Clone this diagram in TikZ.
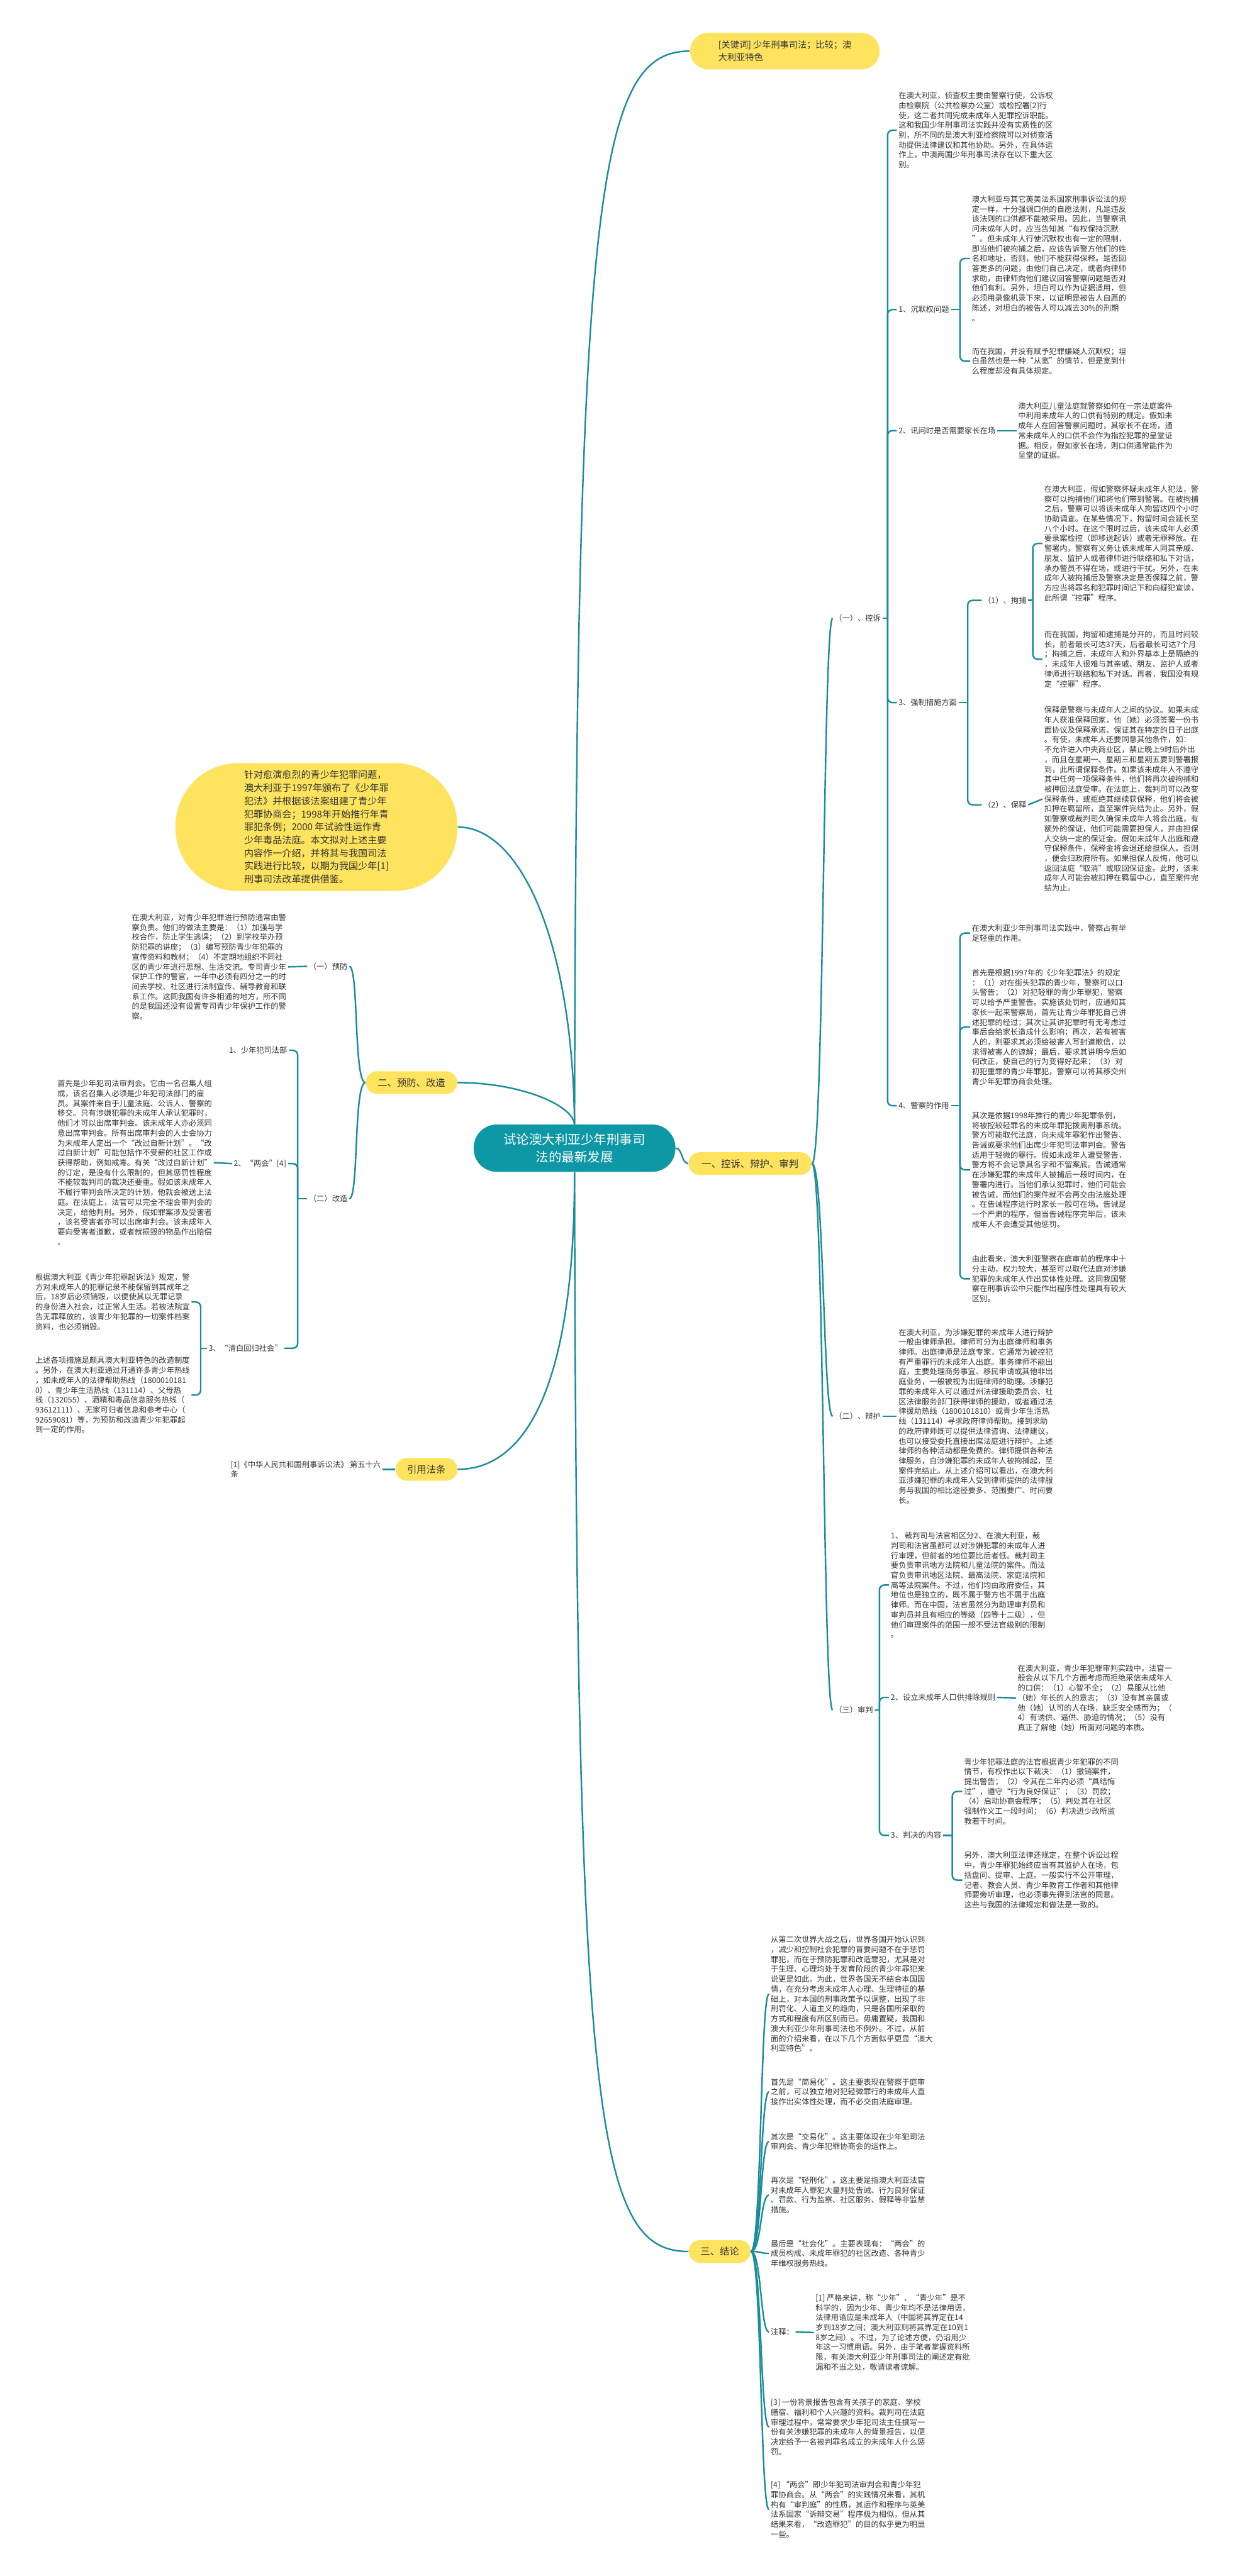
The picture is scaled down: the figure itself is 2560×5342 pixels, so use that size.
\documentclass[tikz,border=0pt]{standalone}
\usepackage{fontspec}
\setmainfont{Noto Sans CJK SC}
\definecolor{lnk}{HTML}{1A8D9C}
\definecolor{bub}{HTML}{FDE35E}
\definecolor{hubc}{HTML}{0E97A5}
\definecolor{ink}{HTML}{333333}
\tikzset{
  link/.style={draw=lnk, line width=0.9pt, rounded corners=0.1cm},
  txt/.style={anchor=west, align=left, inner sep=0.03cm, text=ink, font=\fontsize{4.55pt}{5.83pt}\selectfont},
  txtl/.style={txt, anchor=east},
  topic/.style={fill=bub, text=ink, rounded corners=0.23cm, minimum height=0.47cm, inner sep=0pt, font=\fontsize{5.7pt}{7pt}\selectfont},
}
\begin{document}
\begin{tikzpicture}[x=0.01cm, y=-0.01cm]
\useasboundingbox (0,0) rectangle (2560,5342);
\fill[white] (0,0) rectangle (2560,5342);

\node[fill=hubc, text=white, rounded corners=0.48cm, minimum width=4.18cm, minimum height=0.98cm, align=center, font=\fontsize{7.6pt}{10.2pt}\selectfont] (hub) at (1191,2381) {试论澳大利亚少年刑事司\\法的最新发展};
\node[topic, minimum width=3.93cm, minimum height=0.76cm, rounded corners=0.38cm, align=left, font=\fontsize{5.26pt}{7.4pt}\selectfont] (kw) at (1627,106) {[关键词]\ 少年刑事司法；比较；澳\\大利亚特色};
\node[topic, minimum width=5.84cm, minimum height=2.65cm, rounded corners=1.3cm, align=left, font=\fontsize{5.6pt}{7.68pt}\selectfont] (intro) at (656,1715) {针对愈演愈烈的青少年犯罪问题，\\澳大利亚于1997年颁布了《少年罪\\犯法》并根据该法案组建了青少年\\犯罪协商会；1998年开始推行年青\\罪犯条例；2000 年试验性运作青\\少年毒品法庭。本文拟对上述主要\\内容作一介绍，并将其与我国司法\\实践进行比较，以期为我国少年[1]\\刑事司法改革提供借鉴。};
\node[topic, minimum width=2.55cm] (yi) at (1555,2413) {一、控诉、辩护、审判};
\node[topic, minimum width=1.89cm] (er) at (853,2245) {二、预防、改造};
\node[topic, minimum width=1.28cm] (yy) at (884,3047) {引用法条};
\node[topic, minimum width=1.28cm] (jielun) at (1492,4669) {三、结论};

\draw[link] (hub.north) .. controls +(4,-1930) and +(-190,0) .. (kw.west);
\draw[link] (intro.east) .. controls +(130,0) and +(-4,-380) .. (hub.north);
\draw[link] (er.east) .. controls +(130,0) and +(-4,-40) .. (hub.north);
\draw[link] (hub.east) .. controls +(14,0) and +(-14,0) .. (yi.west);
\draw[link] (hub.south) .. controls +(0,470) and +(130,0) .. (yy.east);
\draw[link] (hub.south) .. controls +(4,1970) and +(-190,0) .. (jielun.west);

\node[txt] (kongsu) at (1726,1282) {（一）、控诉};
\node[txt] (bianhu) at (1726,2937) {（二）、辩护};
\node[txt] (shenpan) at (1726,3546) {（三）审判};
\foreach \c in {kongsu,bianhu,shenpan}
  \draw[link] (yi.east) .. controls +(25,0) and +(-20,0) .. (\c.west);

\node[txt] (zc) at (1859,270) {在澳大利亚，侦查权主要由警察行使，公诉权\\由检察院（公共检察办公室）或检控署[2]行\\使，这二者共同完成未成年人犯罪控诉职能。\\这和我国少年刑事司法实践并没有实质性的区\\别，所不同的是澳大利亚检察院可以对侦查活\\动提供法律建议和其他协助。另外，在具体运\\作上，中澳两国少年刑事司法存在以下重大区\\别。};
\node[txt] (chenmo) at (1859,642) {1、沉默权问题};
\node[txt] (xunwen) at (1859,893) {2、讯问时是否需要家长在场};
\node[txt] (qiangzhi) at (1859,1457) {3、强制措施方面};
\node[txt] (jingcha) at (1859,2293) {4、警察的作用};
\coordinate (ks) at (1840,1282);
\draw[link] (kongsu.east) -- (ks);
\foreach \c in {zc,chenmo,xunwen,qiangzhi,jingcha}
  \draw[link] (ks) |- (\c.west);

\node[txt] (cm1) at (2011,536) {澳大利亚与其它英美法系国家刑事诉讼法的规\\定一样，十分强调口供的自愿法则，凡是违反\\该法则的口供都不能被采用。因此，当警察讯\\问未成年人时，应当告知其“有权保持沉默\\”。但未成年人行使沉默权也有一定的限制，\\即当他们被拘捕之后，应该告诉警方他们的姓\\名和地址，否则，他们不能获得保释。是否回\\答更多的问题，由他们自己决定，或者向律师\\求助，由律师向他们建议回答警察问题是否对\\他们有利。另外，坦白可以作为证据适用，但\\必须用录像机录下来，以证明是被告人自愿的\\陈述，对坦白的被告人可以减去30\%的刑期\\。};
\node[txt] (cm2) at (2011,749) {而在我国，并没有赋予犯罪嫌疑人沉默权；坦\\白虽然也是一种“从宽”的情节，但是宽到什\\么程度却没有具体规定。};
\coordinate (cms) at (1990,642);
\draw[link] (chenmo.east) -- (cms);
\foreach \c in {cm1,cm2}
  \draw[link] (cms) |- (\c.west);

\node[txt] (xw) at (2107,893) {澳大利亚儿童法庭就警察如何在一宗法庭案件\\中利用未成年人的口供有特别的规定。假如未\\成年人在回答警察问题时，其家长不在场，通\\常未成年人的口供不会作为指控犯罪的呈堂证\\据。相反，假如家长在场，则口供通常能作为\\呈堂的证据。};
\draw[link] (xunwen.east) -- (xw.west);

\node[txt] (jubu) at (2035,1245) {（1）、拘捕};
\node[txt] (baoshi) at (2035,1669) {（2）、保释};
\coordinate (qzs) at (2006,1457);
\draw[link] (qiangzhi.east) -- (qzs);
\foreach \c in {jubu,baoshi}
  \draw[link] (qzs) |- (\c.west);

\node[txt] (jb1) at (2161,1127) {在澳大利亚，假如警察怀疑未成年人犯法，警\\察可以拘捕他们和将他们带到警署。在被拘捕\\之后，警察可以将该未成年人拘留达四个小时\\协助调查。在某些情况下，拘留时间会延长至\\八个小时。在这个限时过后，该未成年人必须\\要录案检控（即移送起诉）或者无罪释放。在\\警署内，警察有义务让该未成年人同其亲戚、\\朋友、监护人或者律师进行联络和私下对话，\\承办警员不得在场，或进行干扰。另外，在未\\成年人被拘捕后及警察决定是否保释之前，警\\方应当将罪名和犯罪时间记下和向疑犯宣读，\\此所谓“控罪”程序。};
\node[txt] (jb2) at (2161,1367) {而在我国，拘留和逮捕是分开的，而且时间较\\长，前者最长可达37天，后者最长可达7个月\\；拘捕之后，未成年人和外界基本上是隔绝的\\，未成年人很难与其亲戚、朋友、监护人或者\\律师进行联络和私下对话。再者，我国没有规\\定“控罪”程序。};
\coordinate (jbs) at (2141,1245);
\draw[link] (jubu.east) -- (jbs);
\foreach \c in {jb1,jb2}
  \draw[link] (jbs) |- (\c.west);

\node[txt] (bs) at (2161,1657) {保释是警察与未成年人之间的协议。如果未成\\年人获准保释回家，他（她）必须签署一份书\\面协议及保释承诺，保证其在特定的日子出庭\\。有使，未成年人还要同意其他条件，如：\\不允许进入中央商业区，禁止晚上9时后外出\\，而且在星期一、星期三和星期五要到警署报\\到，此所谓保释条件。如果该未成年人不遵守\\其中任何一项保释条件，他们将再次被拘捕和\\被押回法庭受审。在法庭上，裁判司可以改变\\保释条件，或拒绝其继续获保释，他们将会被\\扣押在羁留所，直至案件完结为止。另外，假\\如警察或裁判司久确保未成年人将会出庭，有\\额外的保证，他们可能需要担保人，并由担保\\人交纳一定的保证金。假如未成年人出庭和遵\\守保释条件，保释金将会退还给担保人。否则\\，便会归政府所有。如果担保人反悔，他可以\\返回法庭“取消”或取回保证金。此时，该未\\成年人可能会被扣押在羁留中心，直至案件完\\结为止。};
\draw[link] (baoshi.east) -- (bs.west);

\node[txt] (jc1) at (2011,1935) {在澳大利亚少年刑事司法实践中，警察占有举\\足轻重的作用。};
\node[txt] (jc2) at (2011,2130) {首先是根据1997年的《少年犯罪法》的规定\\：（1）对在街头犯罪的青少年，警察可以口\\头警告；（2）对犯轻罪的青少年罪犯，警察\\可以给予严重警告。实施该处罚时，应通知其\\家长一起来警察局，首先让青少年罪犯自己讲\\述犯罪的经过；其次让其讲犯罪时有无考虑过\\事后会给家长造成什么影响；再次，若有被害\\人的，则要求其必须给被害人写封道歉信，以\\求得被害人的谅解；最后，要求其讲明今后如\\何改正，使自己的行为变得好起来；（3）对\\初犯重罪的青少年罪犯，警察可以将其移交州\\青少年犯罪协商会处理。};
\node[txt] (jc3) at (2011,2426) {其次是依据1998年推行的青少年犯罪条例，\\将被控较轻罪名的未成年罪犯拨离刑事系统。\\警方可能取代法庭，向未成年罪犯作出警告、\\告诫或要求他们出席少年犯司法审判会。警告\\适用于轻微的罪行。假如未成年人遭受警告，\\警方将不会记录其名字和不留案底。告诫通常\\在涉嫌犯罪的未成年人被捕后一段时间内，在\\警署内进行。当他们承认犯罪时，他们可能会\\被告诫，而他们的案件就不会再交由法庭处理\\。在告诫程序进行时家长一般可在场。告诫是\\一个严肃的程序，但当告诫程序完毕后，该未\\成年人不会遭受其他惩罚。};
\node[txt] (jc4) at (2011,2652) {由此看来，澳大利亚警察在庭审前的程序中十\\分主动，权力较大，甚至可以取代法庭对涉嫌\\犯罪的未成年人作出实体性处理。这同我国警\\察在刑事诉讼中只能作出程序性处理具有较大\\区别。};
\coordinate (jcs) at (1990,2293);
\draw[link] (jingcha.east) -- (jcs);
\foreach \c in {jc1,jc2,jc3,jc4}
  \draw[link] (jcs) |- (\c.west);

\node[txt] (bh) at (1859,2937) {在澳大利亚，为涉嫌犯罪的未成年人进行辩护\\一般由律师承担。律师可分为出庭律师和事务\\律师。出庭律师是法庭专家，它通常为被控犯\\有严重罪行的未成年人出庭。事务律师不能出\\庭，主要处理商务事宜、移民申请或其他非出\\庭业务，一般被视为出庭律师的助理。涉嫌犯\\罪的未成年人可以通过州法律援助委员会、社\\区法律服务部门获得律师的援助，或者通过法\\律援助热线（1800101810）或青少年生活热\\线（131114）寻求政府律师帮助。接到求助\\的政府律师既可以提供法律咨询、法律建议，\\也可以接受委托直接出席法庭进行辩护。上述\\律师的各种活动都是免费的。律师提供各种法\\律服务，自涉嫌犯罪的未成年人被拘捕起，至\\案件完结止。从上述介绍可以看出，在澳大利\\亚涉嫌犯罪的未成年人受到律师提供的法律服\\务与我国的相比途径要多、范围要广、时间要\\长。};
\draw[link] (bianhu.east) -- (bh.west);

\node[txt] (sp1) at (1843,3287) {1、 裁判司与法官相区分2、在澳大利亚，裁\\判司和法官虽都可以对涉嫌犯罪的未成年人进\\行审理，但前者的地位要比后者低。裁判司主\\要负责审讯地方法院和儿童法院的案件。而法\\官负责审讯地区法院、最高法院、家庭法院和\\高等法院案件。不过，他们均由政府委任，其\\地位也是独立的，既不属于警方也不属于出庭\\律师。而在中国，法官虽然分为助理审判员和\\审判员并且有相应的等级（四等十二级），但\\他们审理案件的范围一般不受法官级别的限制\\。};
\node[txt] (sp2) at (1843,3520) {2、设立未成年人口供排除规则};
\node[txt] (sp3) at (1843,3806) {3、判决的内容};
\coordinate (sps) at (1823,3546);
\draw[link] (shenpan.east) -- (sps);
\foreach \c in {sp1,sp2,sp3}
  \draw[link] (sps) |- (\c.west);

\node[txt] (kg) at (2106,3521) {在澳大利亚，青少年犯罪审判实践中，法官一\\般会从以下几个方面考虑而拒绝采信未成年人\\的口供：（1）心智不全；（2）易服从比他\\（她）年长的人的意志；（3）没有其亲属或\\他（她）认可的人在场，缺乏安全感而为；（\\4）有诱供、逼供、胁迫的情况；（5）没有\\真正了解他（她）所面对问题的本质。};
\draw[link] (sp2.east) -- (kg.west);

\node[txt] (pj1) at (1995,3715) {青少年犯罪法庭的法官根据青少年犯罪的不同\\情节，有权作出以下裁决：（1）撤销案件，\\提出警告；（2）令其在二年内必须“具结悔\\过”，遵守“行为良好保证”；（3）罚款；\\（4）启动协商会程序；（5）判处其在社区\\强制作义工一段时间；（6）判决进少改所监\\教若干时间。};
\node[txt] (pj2) at (1995,3899) {另外，澳大利亚法律还规定，在整个诉讼过程\\中，青少年罪犯始终应当有其监护人在场，包\\括盘问、提审、上庭。一般实行不公开审理，\\记者、教会人员、青少年教育工作者和其他律\\师要旁听审理，也必须事先得到法官的同意。\\这些与我国的法律规定和做法是一致的。};
\coordinate (pjs) at (1974,3806);
\draw[link] (sp3.east) -- (pjs);
\foreach \c in {pj1,pj2}
  \draw[link] (pjs) |- (\c.west);

\node[txt] (jl0) at (1594,4135) {从第二次世界大战之后，世界各国开始认识到\\，减少和控制社会犯罪的首要问题不在于惩罚\\罪犯，而在于预防犯罪和改造罪犯，尤其是对\\于生理、心理均处于发育阶段的青少年罪犯来\\说更是如此。为此，世界各国无不结合本国国\\情，在充分考虑未成年人心理、生理特征的基\\础上，对本国的刑事政策予以调整，出现了非\\刑罚化、人道主义的趋向，只是各国所采取的\\方式和程度有所区别而已。毋庸置疑，我国和\\澳大利亚少年刑事司法也不例外。不过，从前\\面的介绍来看，在以下几个方面似乎更显“澳大\\利亚特色”。};
\node[txt] (jl1) at (1594,4338) {首先是“简易化”。这主要表现在警察于庭审\\之前，可以独立地对犯轻微罪行的未成年人直\\接作出实体性处理，而不必交由法庭审理。};
\node[txt] (jl2) at (1594,4441) {其次是“交易化”。这主要体现在少年犯司法\\审判会、青少年犯罪协商会的运作上。};
\node[txt] (jl3) at (1594,4552) {再次是“轻刑化”。这主要是指澳大利亚法官\\对未成年人罪犯大量判处告诫、行为良好保证\\、罚款、行为监察、社区服务、假释等非监禁\\措施。};
\node[txt] (jl4) at (1594,4673) {最后是“社会化”。主要表现有：“两会”的\\成员构成、未成年罪犯的社区改造、各种青少\\年维权服务热线。};
\node[txt] (zhushi) at (1594,4836) {注释：};
\node[txt] (jl5) at (1594,5033) {[3] 一份背景报告包含有关孩子的家庭、学校\\膳宿、福利和个人兴趣的资料。裁判司在法庭\\审理过程中，常常要求少年犯司法主任撰写一\\份有关涉嫌犯罪的未成年人的背景报告，以便\\决定给予一名被判罪名成立的未成年人什么惩\\罚。};
\node[txt] (jl6) at (1594,5204) {[4] “两会”即少年犯司法审判会和青少年犯\\罪协商会。从“两会”的实践情况来看，其机\\构有“审判庭”的性质，其运作和程序与英美\\法系国家“诉辩交易”程序极为相似，但从其\\结果来看，“改造罪犯”的目的似乎更为明显\\一些。};
\foreach \c in {jl0,jl1,jl2,jl3,jl4,zhushi,jl5,jl6}
  \draw[link] (jielun.east) .. controls +(22,0) and +(-18,0) .. (\c.west);
\node[txt] (zs) at (1687,4837) {[1] 严格来讲，称“少年”、“青少年”是不\\科学的，因为少年、青少年均不是法律用语，\\法律用语应是未成年人（中国将其界定在14\\岁到18岁之间；澳大利亚则将其界定在10到1\\8岁之间）。不过，为了论述方便，仍沿用少\\年这一习惯用语。另外，由于笔者掌握资料所\\限，有关澳大利亚少年刑事司法的阐述定有纰\\漏和不当之处，敬请读者谅解。};
\draw[link] (zhushi.east) -- (zs.west);

\node[txtl] (yufang) at (724,2004) {（一）预防};
\node[txtl] (gaizao) at (724,2486) {（二）改造};
\foreach \c in {yufang,gaizao}
  \draw[link] (er.west) .. controls +(-25,0) and +(20,0) .. (\c.east);
\node[txtl] (yf) at (597,2005) {在澳大利亚，对青少年犯罪进行预防通常由警\\察负责。他们的做法主要是：（1）加强与学\\校合作，防止学生逃课；（2）到学校举办预\\防犯罪的讲座；（3）编写预防青少年犯罪的\\宣传资料和教材；（4）不定期地组织不同社\\区的青少年进行思想、生活交流。专司青少年\\保护工作的警官，一年中必须有四分之一的时\\间去学校、社区进行法制宣传、辅导教育和联\\系工作。这同我国有许多相通的地方，所不同\\的是我国还没有设置专司青少年保护工作的警\\察。};
\draw[link] (yufang.west) -- (yf.east);

\node[txtl] (sfb) at (599,2178) {1、少年犯司法部};
\node[txtl] (lh) at (597,2413) {2、“两会”[4]};
\node[txtl] (qb) at (589,2796) {3、“清白回归社会”};
\coordinate (gzs) at (617,2486);
\draw[link] (gaizao.west) -- (gzs);
\foreach \c in {sfb,lh,qb}
  \draw[link] (gzs) |- (\c.east);

\node[txtl] (lht) at (443,2411) {首先是少年犯司法审判会。它由一名召集人组\\成，该名召集人必须是少年犯司法部门的雇\\员。其案件来自于儿童法庭、公诉人、警察的\\移交。只有涉嫌犯罪的未成年人承认犯罪时，\\他们才可以出席审判会。该未成年人亦必须同\\意出席审判会。所有出席审判会的人士会协力\\为未成年人定出一个“改过自新计划”。“改\\过自新计划”可能包括作不受薪的社区工作或\\获得帮助，例如戒毒。有关“改过自新计划”\\的订定，是没有什么限制的，但其惩罚性程度\\不能较裁判司的裁决还要重。假如该未成年人\\不履行审判会所决定的计划，他就会被送上法\\庭。在法庭上，法官可以完全不理会审判会的\\决定，给他判刑。另外，假如罪案涉及受害者\\，该名受害者亦可以出席审判会。该未成年人\\要向受害者道歉，或者就损毁的物品作出赔偿\\。};
\draw[link] (lh.west) -- (lht.east);

\node[txtl] (qb1) at (397,2700) {根据澳大利亚《青少年犯罪起诉法》规定，警\\方对未成年人的犯罪记录不能保留到其成年之\\后，18岁后必须销毁，以便使其以无罪记录\\的身份进入社会，过正常人生活。若被法院宣\\告无罪释放的，该青少年犯罪的一切案件档案\\资料，也必须销毁。};
\node[txtl] (qb2) at (397,2893) {上述各项措施是颇具澳大利亚特色的改造制度\\。另外，在澳大利亚通过开通许多青少年热线\\，如未成年人的法律帮助热线（1800010181\\0）、青少年生活热线（131114）、父母热\\线（132055）、酒精和毒品信息服务热线（\\93612111）、无家可归者信息和参考中心（\\92659081）等，为预防和改造青少年犯罪起\\到一定的作用。};
\coordinate (qbs) at (416,2796);
\draw[link] (qb.west) -- (qbs);
\foreach \c in {qb1,qb2}
  \draw[link] (qbs) |- (\c.east);

\node[txtl] (yyt) at (793,3047) {[1]《中华人民共和国刑事诉讼法》 第五十六\\条};
\draw[link] (yy.west) -- (yyt.east);
\end{tikzpicture}
\end{document}
